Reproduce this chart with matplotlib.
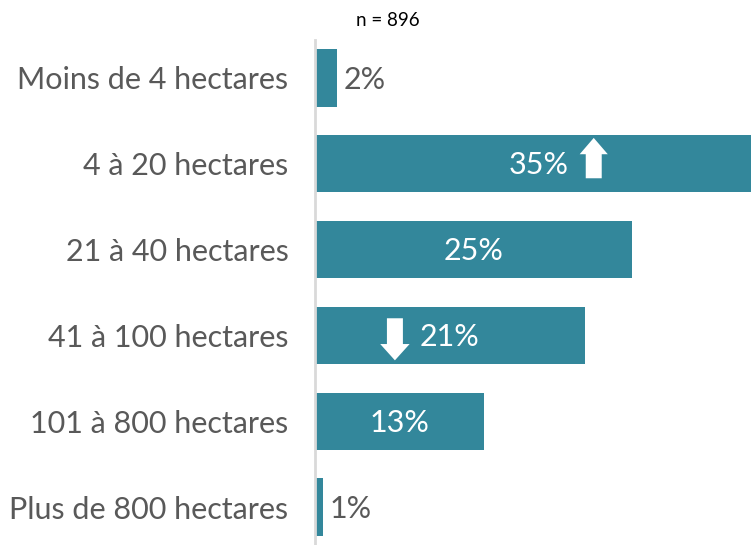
import numpy as np
import matplotlib.pyplot as plt
from matplotlib.patches import FancyArrow

plt.rcParams['font.family'] = ['Lato', 'DejaVu Sans']

categories = ["Moins de 4 hectares", "4 à 20 hectares", "21 à 40 hectares",
              "41 à 100 hectares", "101 à 800 hectares", "Plus de 800 hectares"]
values = [1.7, 35.0, 24.8, 21.1, 13.2, 0.6]
# significance arrows: +1 up, -1 down, 0 none
trend = [0, 1, 0, -1, 0, 0]
n_label = "n = 896"

bar_color = '#33879B'
text_gray = '#595959'
xmax = 34.1
fs = 22

fig = plt.figure(figsize=(7.51, 5.45), dpi=100)
ax = fig.add_axes([315 / 751, 0, 1 - 315 / 751, 505 / 545])

y = np.arange(len(categories))
ax.barh(y, values, height=0.67, color=bar_color)
ax.set_xlim(0, xmax)
ax.set_ylim(len(categories) - 0.56, -0.44)

for i, v in enumerate(values):
    lab = f"{v:.0f}%"
    if v > 5:
        cx = min(v, xmax + 1.2) / 2
        ax.text(cx, i + 0.02, lab, color='white', fontsize=fs, ha='center', va='center')
        if trend[i] != 0:
            ax_x = cx + 4.3 * trend[i]
            if trend[i] > 0:
                arr = FancyArrow(ax_x, i + 0.17, 0, -0.47, width=1.25, head_width=2.2,
                                 head_length=0.19, length_includes_head=True,
                                 color='white', lw=0)
            else:
                arr = FancyArrow(ax_x, i - 0.2, 0, 0.49, width=1.25, head_width=2.3,
                                 head_length=0.19, length_includes_head=True,
                                 color='white', lw=0)
            ax.add_patch(arr)
    else:
        ax.text(v + 0.5, i + 0.02, lab, color=text_gray, fontsize=fs, ha='left', va='center')

ax.set_yticks(y)
ax.set_yticklabels(categories, fontsize=fs, color=text_gray)
ax.tick_params(axis='y', length=0, pad=19)
ax.set_xticks([])
for s in ['top', 'right', 'bottom']:
    ax.spines[s].set_visible(False)
ax.spines['left'].set_color('#D9D9D9')
ax.spines['left'].set_linewidth(2)

fig.text(388 / 751, 1 - 20 / 545, n_label, fontsize=13.5, color='black',
         ha='center', va='center')

fig.savefig('out.png', dpi=100)
